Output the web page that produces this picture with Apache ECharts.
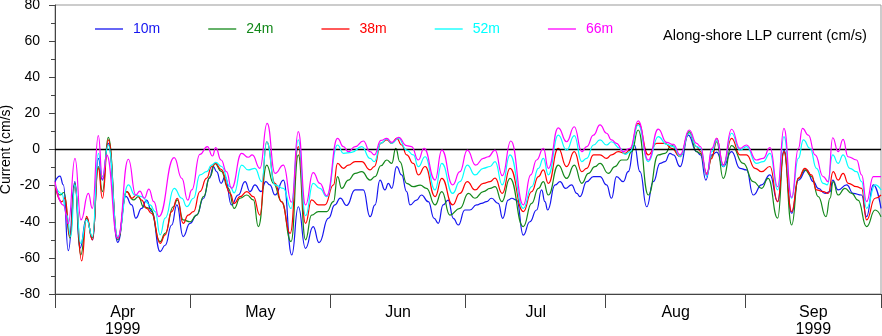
<!DOCTYPE html>
<html><head><meta charset="utf-8">
<script src="https://cdn.jsdelivr.net/npm/echarts@6/dist/echarts.min.js"></script>
<style>html,body{margin:0;padding:0;background:#fff}#c{width:882px;height:336px}</style>
</head><body><div id="c"></div>
<script>
// x values: days since 1 Apr 1999
const monthNames = ['Apr', 'May', 'Jun', 'Jul', 'Aug', 'Sep'];
const monthStarts = [0, 30, 61, 91, 122, 153, 183];
const yearLabel = '1999';
const seriesNames = ['10m', '24m', '38m', '52m', '66m'];
const seriesColors = ['#1515f0', '#13881a', '#ff0000', '#00ffff', '#ff00ff'];
const yMin = -80, yMax = 80, yStep = 20;

const d10m = [[0,-17.8],[1.1,-14.7],[1.85,-19.6],[2.95,-56],[4.4,-17.8],[5.5,-54.7],[7.0,-38],[8.35,-50],[9.6,-4.9],[10.5,-16.9],[11.8,3.4],[13.9,-51.4],[15.7,-26],[17.0,-30.7],[17.9,-38],[19.2,-32.6],[20.3,-28],[21.4,-34.4],[23.3,-56.5],[24.4,-53],[25.85,-41.8],[27.0,-30.7],[28.4,-48.2],[29.9,-40.9],[31.4,-36.3],[32.9,-27],[34.2,-15.9],[35.1,-9.5],[35.8,-12.3],[36.8,-18.7],[37.7,-15],[39.1,-30.7],[40.6,-25.2],[42.1,-17.8],[43.2,-23.3],[44.3,-19.6],[45.65,-23.3],[46.7,-17.8],[47.6,-19.6],[48.75,-25.2],[50.6,-16.9],[52.45,-58.4],[53.9,-31.7],[55.5,-54.7],[57.2,-42.7],[58.5,-51.6],[60.6,-38],[62.0,-30.7],[63.2,-26.9],[64.6,-31],[66.5,-22.4],[68.3,-22.4],[69.8,-37.2],[70.9,-30.7],[72.0,-16.9],[73.1,-22.4],[73.85,-18.7],[74.6,-21.5],[75.7,-9.5],[76.8,-14.1],[77.9,-23.3],[78.65,-30.7],[80.1,-28],[81.2,-25.2],[82.7,-28.9],[84.0,-38.1],[84.9,-40.9],[86.0,-30.7],[87.1,-28],[88.25,-38.1],[89.35,-41.8],[90.8,-33.5],[91.9,-33.5],[93.4,-30.7],[94.5,-29.8],[95.6,-28.9],[96.7,-27],[98.2,-29.8],[99.2,-38.1],[100.4,-28],[101.2,-27],[102.3,-28],[103.75,-47.4],[105.2,-40],[106.7,-33.5],[107.8,-22.4],[108.55,-28.9],[109.15,-33.5],[110.8,-19.6],[111.9,-17.8],[113.1,-21.5],[114.45,-19.6],[115.6,-24.3],[116.3,-26.1],[117.8,-17.8],[119.3,-15],[120.75,-15],[122.2,-19.6],[123.3,-27],[124.4,-15],[125.9,-17.8],[127.0,-12.3],[128.35,2.5],[129.6,-12.3],[131.1,-31.7],[132.55,-17.8],[134.05,-7.7],[135.15,-6.7],[136.25,-2.1],[137.0,-3],[138.5,-9.5],[140.3,8],[142.15,-1.2],[143.0,-3],[144.2,-16.9],[145.5,-3],[146.6,-1.5],[148.05,-9.5],[149.9,-1.2],[151.75,-10.4],[153.2,-11.3],[154.7,-25.2],[156.55,-19.6],[158.4,-14],[160.1,-28.9],[161.5,-0.3],[163.2,-35.3],[164.7,-16.9],[166.5,-11.3],[168.0,-17.8],[169.1,-21.5],[170.6,-24.3],[171.7,-23.3],[172.3,-16.9],[173.5,-22.4],[175.4,-19.6],[176.85,-24.3],[178.7,-25.2],[179.8,-37.2],[181.3,-19.6],[183,-32.6]];

const d24m = [[0,-19.6],[1.1,-25.2],[2.0,-23.8],[3.3,-49],[4.4,-18.7],[5.7,-58.4],[7.0,-38],[8.3,-49],[9.6,-9.5],[10.5,-23.3],[11.8,6.7],[13.9,-50],[15.9,-23.3],[17.35,-27.9],[18.5,-26.1],[19.6,-31.7],[21.05,-32.6],[23.3,-51],[24.4,-46.4],[26.2,-31.7],[27.1,-27.9],[28.4,-39],[29.9,-40],[31.4,-36.3],[32.9,-26.1],[34.35,-15],[35.45,-7.7],[36.8,-12],[38.4,-21.5],[39.7,-32.6],[41.0,-27],[42.5,-25.2],[43.95,-27.9],[45.05,-42.7],[46.9,-8.6],[48.4,-18.7],[50.2,-28.9],[52.3,-51],[53.9,-3],[55.5,-50],[56.85,-36.3],[58.35,-34.4],[60.2,-34.4],[61.7,-28.9],[62.6,-15],[63.5,-21.5],[65.0,-16.9],[66.5,-13.2],[67.95,-12.3],[69.8,-16.9],[70.9,-15],[72.2,-9],[73.5,-5.8],[74.6,-7.7],[75.5,0.6],[76.4,-6.7],[77.9,-18.7],[79.4,-20.6],[80.9,-19.7],[82.3,-21.5],[84.2,-30.7],[85.7,-23.3],[87.5,-36.3],[89.7,-32.6],[91.6,-24.3],[93.05,-27],[94.9,-23.3],[96.4,-21.5],[97.5,-20.6],[99.0,-28.9],[100.8,-16],[103.75,-42.7],[105.6,-29.8],[107.1,-21.5],[108.2,-17.8],[109.3,-25.2],[111.5,-8.6],[113.35,-16],[115.05,-8.6],[116.7,-18.7],[118.2,-13.2],[119.6,-9.5],[120.75,-7.7],[122.6,-13.2],[124.05,-9.5],[125.5,-5.8],[126.65,-5.8],[127.75,-1.2],[129.2,10.8],[131.45,-25.2],[133.65,-3],[135.15,-2.1],[136.6,2.5],[138.5,-3.9],[140.5,9.9],[142.15,-1.2],[143.0,-2.1],[144.4,-14.1],[145.5,-4],[146.6,4.3],[148.05,-16],[149.9,2.1],[152.5,-7.7],[154.7,-17.8],[156.55,-21.5],[158.0,-16],[160.1,-38],[161.5,-1.2],[163.2,-41.8],[164.7,-16],[166.15,-11.3],[167.6,-15],[169.1,-26.1],[170.8,-37.2],[171.7,-27],[172.4,-17.8],[173.5,-25.2],[175.0,-21.5],[176.5,-24.3],[177.9,-28],[179.8,-42.7],[181.7,-33.5],[183,-37.2]];

const d38m = [[0,-19.6],[1.5,-29],[2.2,-26.8],[3.3,-48],[4.4,-20.6],[5.9,-61.7],[7.0,-37],[8.3,-50],[9.6,-10.4],[10.5,-27],[11.8,5.3],[13.9,-49],[15.9,-23.3],[17.0,-27],[18.1,-25.2],[19.2,-28],[20.3,-32.6],[21.4,-35.4],[23.3,-52],[24.4,-47.3],[25.85,-34.4],[27.1,-27],[28.4,-40.9],[29.5,-36.3],[30.7,-34.4],[32.1,-23.3],[33.6,-15.9],[34.7,-9.5],[35.6,-7.7],[36.8,-11],[38.8,-24.3],[39.7,-29.9],[41.0,-26.1],[42.5,-23.3],[43.95,-26.1],[45.4,-36.3],[46.9,4.3],[48.75,-18.7],[50.2,-29],[52.1,-46.4],[53.9,1.6],[55.5,-40.9],[56.85,-27.9],[58.35,-30.7],[59.8,-30.7],[61.7,-19.6],[62.6,-7.7],[63.9,-10.4],[65.0,-8.6],[66.5,-6.7],[67.95,-6.7],[69.8,-11.3],[70.75,-9.5],[72.2,3.5],[73.5,5.3],[74.6,3.4],[75.7,6.2],[76.8,2.5],[77.9,-3],[79.4,-7.7],[80.5,-14.1],[82.0,-9.4],[84.2,-26.1],[85.7,-16],[88.1,-30.7],[89.7,-24.3],[91.35,-17.8],[93.05,-22.4],[94.9,-18.7],[96.4,-17.8],[97.5,-15.9],[99.1,-24.3],[100.8,-10.4],[103.75,-34.4],[105.6,-23.3],[107.1,-15],[108.2,-11.3],[109.3,-18.8],[111.5,0.6],[113.35,-9.5],[115.05,-1.2],[116.7,-12.3],[117.8,-10.4],[119.3,-3],[120.75,-3],[122.2,-4.9],[123.3,-3],[124.8,-1.2],[126.3,-2.1],[127.4,-0.3],[129.2,14.5],[131.45,-3],[133.3,3.4],[135.15,3.4],[136.6,0.6],[138.5,-3.9],[140.5,9],[142.15,1.6],[143.0,-1.2],[144.4,-13.2],[145.5,-4.9],[146.6,6.2],[148.05,-8.6],[149.9,6.2],[151.75,-3],[153.2,-3],[155.1,-10.4],[156.55,-12.3],[158.4,-9.4],[160.1,-28.9],[161.5,-1.2],[163.2,-34.4],[164.7,-15.9],[166.15,-10.4],[167.6,-14.1],[168.7,-22.4],[170.2,-23.3],[171.3,-24.3],[172.4,-12.3],[173.5,-16.9],[174.6,-13.2],[175.75,-18.7],[177.6,-20.6],[178.7,-21.5],[179.8,-39],[181.7,-27],[183,-25.2]];

const d52m = [[0,-19.6],[1.5,-24.4],[2.6,-36.3],[3.5,-48.2],[4.4,-19.6],[5.7,-52],[7.0,-39],[8.3,-48.2],[9.6,-2.1],[10.5,-15],[11.8,2.5],[13.9,-48.2],[16.25,-19.6],[17.7,-25.2],[19.2,-26.1],[21.05,-30.7],[22.2,-34.4],[23.3,-47.3],[24.4,-38],[26.4,-21.5],[28.1,-27],[29.2,-31.6],[30.7,-27],[32.1,-14.1],[33.6,-12.3],[34.7,-8.6],[35.6,-7.1],[36.9,-9.4],[38.8,-20.6],[39.7,-24],[41.35,-8.6],[42.8,-11.3],[44.3,-10.4],[45.8,-17.8],[46.9,4.3],[48.75,-19.6],[50.6,-21.5],[52.3,-32.7],[53.9,5.3],[55.5,-36.6],[57.2,-18.7],[58.7,-21.5],[60.2,-26.1],[62.6,2.5],[63.9,-2.1],[65.7,-1.6],[67.95,1.6],[69.8,-4.9],[70.75,-6.7],[72.2,3.5],[73.5,5.8],[74.6,3.4],[76.1,6.2],[77.9,-0.3],[79.4,-3],[80.5,-9.5],[82.0,-4],[84.2,-22.4],[85.7,-7.7],[88.1,-24.3],[89.7,-17.8],[91.35,-8.6],[93.05,-14.1],[94.9,-10.4],[96.4,-9.4],[97.5,-6.7],[99.1,-19.6],[100.8,-3],[103.75,-32.6],[105.6,-20.6],[107.1,-10.4],[108.2,-4.9],[109.3,-14],[111.5,8],[113.35,-0.3],[115.05,7.7],[116.7,-6.7],[117.8,-4.9],[119.3,2.5],[120.75,5.3],[122.2,2.5],[123.3,4.3],[125.2,0.6],[126.3,-2.7],[127.4,-1.2],[129.2,13.6],[131.45,-6.7],[133.65,7.1],[135.5,2.8],[137.0,1.6],[138.5,-3.9],[140.5,9],[142.15,1.6],[143.0,0.6],[144.4,-15],[145.5,-1.2],[146.6,5.3],[148.05,-9.5],[149.9,9],[151.75,-0.3],[153.2,1.6],[155.4,-7.7],[156.9,-6.7],[158.4,-2.1],[160.1,-22.4],[161.5,7.1],[163.2,-27],[164.7,-4.9],[165.8,5.3],[167.3,0.6],[168.7,-10.4],[170.2,-18.7],[171.1,-19.6],[172.3,-3],[173.5,-7.7],[174.6,-3],[176.1,-10.4],[177.6,-12.3],[178.7,-17.8],[179.8,-32.6],[181.7,-19.6],[183,-22.4]];

const d66m = [[0,-17.8],[1.85,-30.8],[2.95,-41],[4.43,-4.9],[5.76,-39],[7.39,-24.3],[8.27,-32.6],[9.6,7.7],[10.5,-16.3],[11.45,-3],[13.9,-49.2],[16.25,-5.4],[17.9,-25.2],[18.8,-23],[19.8,-27],[20.8,-21.9],[21.9,-28.9],[23.0,-37.2],[26.4,-4.5],[28.1,-16],[29.4,-28],[30.3,-22.4],[32.1,-2.7],[33.75,1.6],[34.9,-3.6],[35.6,1],[36.8,-5.8],[38.0,-12.3],[39.1,-21.5],[41.35,-2.1],[42.8,-4.3],[43.7,-3],[45.4,-10.4],[47.0,14.5],[48.75,-13.2],[50.6,-8.6],[52.4,-29.2],[53.9,9.9],[55.5,-30.7],[57.2,-12.8],[58.7,-18.7],[60.2,-25.6],[62.6,6.2],[63.9,1.6],[65.0,-1.2],[66.5,1.6],[68.3,4.7],[69.8,-1.2],[70.75,-3],[72.2,5],[73.5,6.2],[74.6,4],[76.1,6.7],[77.9,2.1],[79.0,1.6],[80.5,-5.8],[81.75,0.6],[84.2,-16.9],[85.7,-0.3],[88.1,-19.6],[89.7,-12.3],[91.35,-0.3],[93.2,-8.6],[94.9,-4.9],[96.0,-4],[97.5,-0.3],[99.1,-14.5],[101.0,4.7],[103.75,-30.7],[105.4,-14.1],[106.7,-5.8],[108.2,0.6],[109.3,-10.4],[111.5,12],[113.35,4.3],[115.05,12.6],[116.7,-1.2],[117.8,1.6],[119.3,8],[120.75,13.6],[122.2,9],[123.3,5.3],[124.4,3.4],[125.9,-1.2],[127.4,0.6],[129.2,15.8],[131.45,-5.8],[133.65,11.3],[135.5,3.9],[137.0,2.8],[138.5,-3],[140.5,10.8],[142.15,3.4],[143.0,1.6],[144.4,-14.1],[145.5,0.6],[146.6,6.2],[148.05,-8.6],[149.9,11.2],[151.75,0.6],[153.2,2.5],[155.4,-5.8],[156.9,-4.9],[158.4,1],[160.1,-20.6],[161.5,11.7],[163.2,-26.5],[164.7,0.6],[165.6,11.7],[166.9,8],[168.4,-3],[170.2,-15],[171.3,-17.8],[172.3,6.5],[173.5,-1.2],[174.6,5.6],[175.7,-4],[177.6,-5.8],[178.7,-14],[179.8,-28.9],[181.3,-15],[183,-15]];

const seriesData = [d10m, d24m, d38m, d52m, d66m];
const monthCenters = monthNames.map((m, i) => (monthStarts[i] + monthStarts[i + 1]) / 2);

const chart = echarts.init(document.getElementById('c'), null, {renderer: 'canvas'});
const FONT = 'Liberation Sans, Arial, Helvetica, sans-serif';

const series = seriesNames.map((name, i) => ({
  name: name,
  type: 'line',
  data: seriesData[i],
  showSymbol: false,
  symbol: 'none',
  smooth: 0.5,
  smoothMonotone: 'x',
  lineStyle: {color: seriesColors[i], width: 1.2},
  itemStyle: {color: seriesColors[i]},
  z: 2 + i
}));
series[series.length - 1].markLine = {
  silent: true, symbol: 'none', label: {show: false}, animation: false,
  lineStyle: {color: '#000', width: 1.4, type: 'solid'},
  data: [{yAxis: 0}]
};

chart.setOption({
  animation: false,
  backgroundColor: '#fff',
  textStyle: {fontFamily: FONT},
  title: {
    text: 'Along-shore LLP current (cm/s)',
    right: 10, top: 23,
    textStyle: {fontFamily: FONT, fontSize: 14.7, fontWeight: 'normal', color: '#000'}
  },
  legend: {
    left: 90, top: 17,
    icon: 'rect',
    itemWidth: 28, itemHeight: 1.3, itemGap: 48,
    textStyle: {fontFamily: FONT, fontSize: 14, padding: [0, 0, 0, 5]},
    data: seriesNames.map((n, i) => ({name: n, itemStyle: {color: seriesColors[i]}, textStyle: {color: seriesColors[i]}}))
  },
  grid: {left: 55, right: 1, top: 5, bottom: 42, containLabel: false, outerBoundsMode: 'none',
         show: true, borderColor: '#999', borderWidth: 1},
  xAxis: {
    type: 'value', min: monthStarts[0], max: monthStarts[monthStarts.length - 1],
    axisLine: {show: true, onZero: false, lineStyle: {color: '#444', width: 1}},
    axisTick: {show: true, customValues: monthStarts, length: 14, inside: false, lineStyle: {color: '#444', width: 1}},
    axisLabel: {
      customValues: monthCenters, margin: 10,
      fontFamily: FONT, fontSize: 16, lineHeight: 17, color: '#000',
      formatter: function (v) {
        let idx = 0, best = 1e9;
        monthCenters.forEach((c, i) => { if (Math.abs(c - v) < best) { best = Math.abs(c - v); idx = i; } });
        const name = monthNames[idx];
        return (idx === 0 || idx === monthNames.length - 1) ? name + '\n' + yearLabel : name;
      }
    },
    splitLine: {show: false}
  },
  yAxis: {
    type: 'value', min: yMin, max: yMax, interval: yStep,
    name: 'Current (cm/s)', nameLocation: 'middle', nameGap: 42, nameRotate: 90,
    nameMoveOverlap: false,
    nameTextStyle: {fontFamily: FONT, fontSize: 14, color: '#000'},
    axisLine: {show: true, onZero: false, lineStyle: {color: '#444', width: 1}},
    axisTick: {show: true, length: 6, lineStyle: {color: '#444'}},
    minorTick: {show: true, splitNumber: 2, length: 4, lineStyle: {color: '#444'}},
    axisLabel: {fontFamily: FONT, fontSize: 14, color: '#000', margin: 15},
    splitLine: {show: false}
  },
  series: series
});
</script></body></html>
